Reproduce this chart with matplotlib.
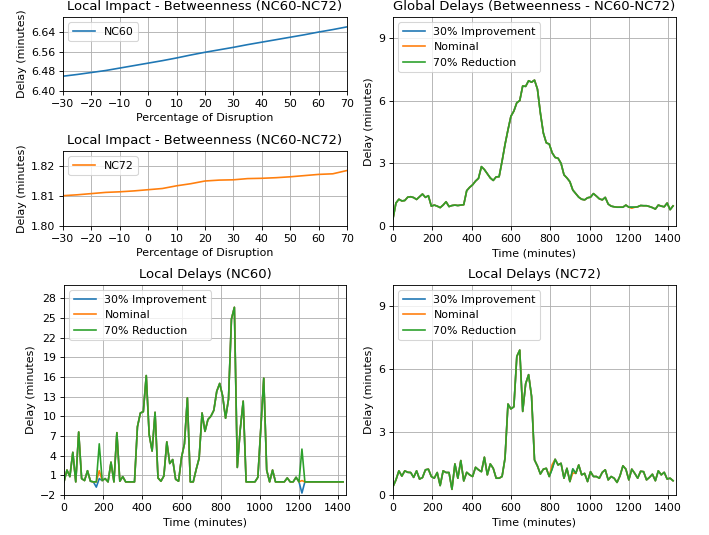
import numpy as np
import matplotlib
matplotlib.use("Agg")
import matplotlib.pyplot as plt

# Percentage of disruption (x axis of the local impact plots)
disruption = [-30, -25, -20, -15, -10, -5, 0, 5, 10, 15, 20, 25, 30, 35, 40, 45, 50, 55, 60, 65, 70]
impact_nc60 = [6.460, 6.467, 6.475, 6.483, 6.493, 6.503, 6.513, 6.523, 6.534, 6.546, 6.557,
               6.567, 6.577, 6.588, 6.598, 6.608, 6.618, 6.628, 6.639, 6.649, 6.660]
impact_nc72 = [1.8101, 1.8104, 1.8108, 1.8112, 1.8114, 1.8117, 1.8121, 1.8125, 1.8134, 1.8141, 1.8150,
               1.8153, 1.8154, 1.8158, 1.8159, 1.8161, 1.8164, 1.8168, 1.8172, 1.8174, 1.8185]

# Time of day in minutes, one sample every 15 minutes
time = np.arange(0, 1440, 15)

global_reduction = [0.35, 1.10, 1.28, 1.20, 1.22, 1.38, 1.40, 1.36, 1.27, 1.40, 1.53, 1.37,
                    1.45, 0.95, 1.00, 0.95, 0.88, 1.00, 1.16, 0.93, 0.98, 1.00, 0.98, 1.00,
                    1.02, 1.69, 1.85, 1.97, 2.15, 2.28, 2.84, 2.70, 2.50, 2.30, 2.18, 2.35,
                    2.36, 3.10, 3.90, 4.60, 5.25, 5.50, 5.90, 6.00, 6.70, 6.68, 6.95, 6.88,
                    6.98, 6.55, 5.40, 4.45, 3.98, 3.92, 3.50, 3.28, 3.24, 3.00, 2.45, 2.30,
                    2.12, 1.72, 1.55, 1.38, 1.28, 1.25, 1.35, 1.38, 1.55, 1.43, 1.30, 1.25,
                    1.37, 1.05, 0.95, 0.92, 0.90, 0.90, 0.90, 1.00, 0.90, 0.90, 0.90, 0.92,
                    0.98, 0.97, 0.97, 0.93, 0.88, 0.81, 1.00, 0.95, 0.92, 1.10, 0.78, 0.96]
global_nominal_diff = {1215: 0.85}
global_improvement_diff = {}

nc60_reduction = [0.0, 1.8, 0.8, 4.5, 0.0, 7.6, 0.5, 0.2, 1.7, 0.1, 0.0, 0.0,
                  5.8, 0.2, 0.5, 0.0, 3.0, 0.0, 7.5, 0.1, 0.8, 0.0, 0.0, 0.0,
                  0.0, 8.4, 10.5, 10.7, 16.2, 7.2, 4.7, 10.6, 0.6, 0.1, 0.9, 6.1,
                  2.8, 3.4, 0.4, 0.1, 3.7, 5.8, 12.8, 0.0, 0.0, 1.9, 3.6, 10.5,
                  7.7, 9.5, 10.0, 10.9, 13.8, 15.0, 13.1, 9.7, 12.6, 24.8, 26.6, 2.2,
                  8.0, 12.3, 0.0, 0.0, 0.0, 0.0, 0.7, 8.2, 15.8, 1.8, 0.0, 1.8,
                  0.0, 0.0, 0.0, 0.0, 0.6, 0.0, 0.0, 0.7, 0.0, 5.0, 0.0, 0.0,
                  0.0, 0.0, 0.0, 0.0, 0.0, 0.0, 0.0, 0.0, 0.0, 0.0, 0.0, 0.0]
nc60_nominal_diff = {180: 1.7, 1215: 0.2}
nc60_improvement_diff = {165: -0.8, 180: 0.5, 1215: -1.7}

nc72_reduction = [0.40, 0.72, 1.15, 0.90, 1.15, 1.08, 1.07, 0.84, 1.15, 0.76, 0.83, 1.20,
                  1.23, 0.88, 0.80, 1.07, 0.45, 1.15, 1.07, 1.07, 0.27, 1.48, 0.80, 1.64,
                  0.67, 1.08, 0.96, 0.88, 1.32, 1.20, 1.11, 1.80, 0.96, 1.48, 1.27, 0.80,
                  0.80, 0.88, 1.75, 4.33, 4.10, 4.20, 6.60, 6.90, 3.98, 5.30, 5.73, 4.70,
                  1.67, 1.38, 1.00, 1.23, 1.27, 0.88, 1.25, 1.70, 1.43, 1.51, 0.80, 1.27,
                  0.64, 1.24, 1.03, 1.43, 0.96, 1.03, 0.64, 1.11, 0.88, 0.88, 0.80, 1.08,
                  1.20, 0.72, 0.88, 0.80, 0.60, 0.91, 1.39, 1.23, 0.72, 1.23, 1.03, 0.80,
                  1.13, 1.11, 0.72, 0.84, 0.99, 0.68, 1.15, 0.96, 1.08, 0.76, 0.80, 0.68]
nc72_nominal_diff = {810: 1.45, 915: 1.05}
nc72_improvement_diff = {}

labels = ["30% Improvement", "Nominal", "70% Reduction"]
colors = ["tab:blue", "tab:orange", "tab:green"]


def apply_diff(base, diff):
    values = list(base)
    for t, v in diff.items():
        values[list(time).index(t)] = v
    return values


W, H = 709, 535
DPI = 709 / 9
fig = plt.figure(figsize=(9, H / DPI), dpi=DPI)


def px_axes(left, top, right, bottom):
    return fig.add_axes([left / W, 1 - bottom / H, (right - left) / W, (bottom - top) / H])


# Local impact NC60
ax1 = px_axes(63, 17, 347, 91)
ax1.plot(disruption, impact_nc60, color="tab:blue", label="NC60")
ax1.set_xlim(-30, 70)
ax1.set_ylim(6.40, 6.70)
ax1.set_yticks([6.40, 6.48, 6.56, 6.64])
ax1.set_xticks(range(-30, 71, 10))
ax1.set_title("Local Impact - Betweenness (NC60-NC72)")
ax1.set_xlabel("Percentage of Disruption")
ax1.set_ylabel("Delay (minutes)")
ax1.legend(loc="upper left")
ax1.grid(True)

# Local impact NC72
ax2 = px_axes(63, 151, 347, 226)
ax2.plot(disruption, impact_nc72, color="tab:orange", label="NC72")
ax2.set_xlim(-30, 70)
ax2.set_ylim(1.80, 1.825)
ax2.set_yticks([1.80, 1.81, 1.82])
ax2.set_xticks(range(-30, 71, 10))
ax2.set_title("Local Impact - Betweenness (NC60-NC72)")
ax2.set_xlabel("Percentage of Disruption")
ax2.set_ylabel("Delay (minutes)")
ax2.legend(loc="upper left")
ax2.grid(True)


def delay_plot(ax, base, imp_diff, nom_diff, title, ylim, yticks):
    series = [apply_diff(base, imp_diff), apply_diff(base, nom_diff), base]
    for vals, lab, col in zip(series, labels, colors):
        ax.plot(time, vals, color=col, label=lab)
    ax.set_xlim(0, 1440)
    ax.set_ylim(*ylim)
    ax.set_yticks(yticks)
    ax.set_xticks(range(0, 1401, 200))
    ax.set_title(title)
    ax.set_xlabel("Time (minutes)")
    ax.set_ylabel("Delay (minutes)")
    ax.legend(loc="upper left")
    ax.grid(True)


ax3 = px_axes(393, 17, 676, 226)
delay_plot(ax3, global_reduction, global_improvement_diff, global_nominal_diff,
           "Global Delays (Betweenness - NC60-NC72)", (0, 10), [0, 3, 6, 9])

ax4 = px_axes(64, 285, 346, 495)
delay_plot(ax4, nc60_reduction, nc60_improvement_diff, nc60_nominal_diff,
           "Local Delays (NC60)", (-2, 30), list(range(-2, 30, 3)))

ax5 = px_axes(393, 285, 676, 495)
delay_plot(ax5, nc72_reduction, nc72_improvement_diff, nc72_nominal_diff,
           "Local Delays (NC72)", (0, 10), [0, 3, 6, 9])

fig.savefig("out.png", dpi=DPI)
